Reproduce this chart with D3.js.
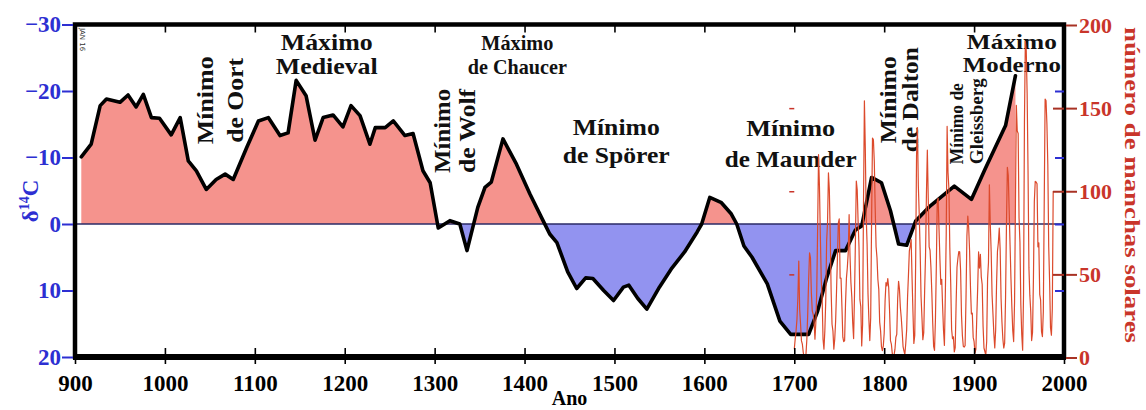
<!DOCTYPE html>
<html><head><meta charset="utf-8">
<script src="https://cdn.jsdelivr.net/npm/d3@7"></script>
<style>html,body{margin:0;padding:0;background:#fff;} svg{display:block;}</style>
</head><body>
<svg id="chart" width="1146" height="410"></svg>
<script>
// ---- data ----
const c14Years = [907,918,928,935,950,959,968,976,985,994,1007,1017,1026,1035,1046,1057,1067,1076,1091,1104,1115,1128,1137,1146,1157,1167,1176,1187,1198,1207,1217,1228,1234,1245,1254,1267,1276,1287,1295,1304,1317,1328,1336,1348,1356,1363,1376,1391,1406,1421,1428,1436,1448,1458,1468,1476,1488,1499,1510,1516,1526,1536,1550,1563,1578,1592,1597,1606,1619,1630,1636,1644,1653,1670,1684,1696,1716,1726,1736,1746,1757,1768,1775,1786,1797,1807,1816,1825,1835,1851,1878,1897,1912,1935,1946];
const c14Values = [-10.1,-12,-17.8,-18.8,-18.3,-19.4,-17.6,-19.5,-16,-15.9,-13.4,-16,-9.5,-8,-5.2,-6.7,-7.5,-6.7,-11.5,-15.5,-16,-13.3,-13.7,-21.6,-19.3,-12.6,-16,-16.4,-14.6,-17.8,-16.3,-12,-14.5,-14.5,-15.5,-13.3,-13.6,-8,-6.2,0.6,-0.5,0,4,-2.5,-5.5,-6.3,-12.8,-9,-4.5,-0.4,1.5,2.8,7.2,9.7,8.1,8.2,10,11.5,9.5,9.2,11.2,12.8,9.5,6.8,4.2,1.2,0,-4,-3.2,-1.5,0,3.3,5,9,14.6,16.6,16.6,13.1,8.1,4,4,0.9,0.3,-7,-6.2,-2,3,3.2,-0.45,-2.7,-5.7,-3.7,-8.2,-14.8,-22.3];

const sunStartYear = 1700;
const sunValues = [
5,11,16,23,36,58,29,20,10,8,
3,0,0,2,11,27,47,63,60,39,
28,26,22,11,21,40,78,122,103,73,
47,35,11,5,16,34,70,81,111,101,
73,40,20,16,5,11,22,40,60,80.9,
83.4,47.7,47.8,30.7,12.2,9.6,10.2,32.4,47.6,54,
62.9,85.9,61.2,45.1,36.4,20.9,11.4,37.8,69.8,106.1,
100.8,81.6,66.5,34.8,30.6,7,19.8,92.5,154.4,125.9,
84.8,68.1,38.5,22.8,10.2,24.1,82.9,132,130.9,118.1,
89.9,66.6,60,46.9,41,21.3,16,6.4,4.1,6.8,
14.5,34,45,43.1,47.5,42.2,28.1,10.1,8.1,2.5,
0,1.4,5,12.2,13.9,35.4,45.8,41.1,30.1,23.9,
15.6,6.6,4,1.8,8.5,16.6,36.3,49.6,64.2,67,
70.9,47.8,27.5,8.5,13.2,56.9,121.5,138.3,103.2,85.7,
64.6,36.7,24.2,10.7,15,40.1,61.5,98.5,124.7,96.3,
66.6,64.5,54.1,39,20.6,6.7,4.3,22.7,54.8,93.8,
95.8,77.2,59.1,44,47,30.5,16.3,7.3,37.6,74,
139,111.2,101.6,66.2,44.7,17,11.3,12.4,3.4,6,
32.3,54.3,59.7,63.7,63.5,52.2,25.4,13.1,6.8,6.3,
7.1,35.6,73,85.1,78,64,41.8,26.2,26.7,12.1,
9.5,2.7,5,24.4,42,63.5,53.8,62,48.5,43.9,
18.6,5.7,3.6,1.4,9.6,47.4,57.1,103.9,80.6,63.6,
37.6,26.1,14.2,5.8,16.7,44.3,63.9,69,77.8,64.9,
35.7,21.2,11.1,5.7,8.7,36.1,79.7,114.4,109.6,88.8,
67.8,47.5,30.6,16.3,9.6,33.2,92.6,151.6,136.3,134.7,
83.9,69.4,31.5,13.9,4.4,38,141.7,190.2,184.8,159,
112.3,53.9,37.5,27.9,10.2,15.1,47,93.8,105.9,105.5,
104.5,66.6,68.9,38,34.5,15.5,12.6,27.5,92.5,155.4,
154.6,140.4,115.9,66.6,45.9,17.9,13.4,29.4,100.2];

const xTicks = [900,1000,1100,1200,1300,1400,1500,1600,1700,1800,1900,2000];
const leftTicks = [-30,-20,-10,0,10,20];
const rightTicks = [0,50,100,150,200];

const labelsH = [
  {lines:["Máximo","Medieval"], year:1180, v:[-26.1,-22.5], w:[92,102], fs:23},
  {lines:["Máximo","de Chaucer"], year:1392, v:[-26.1,-22.6], w:[72,99], fs:21},
  {lines:["Mínimo","de Spörer"], year:1502, v:[-13.4,-9.2], w:[87,107], fs:23},
  {lines:["Mínimo","de Maunder"], year:1696, v:[-13.2,-8.5], w:[89,132], fs:23},
  {lines:["Máximo","Moderno"], year:1942, v:[-26.3,-22.9], w:[90,98], fs:22}
];
const labelsV = [
  {lines:["Mínimo","de Oort"], years:[1053,1087], vMid:-18.6, w:[88,85], fs:23, anchor:"middle"},
  {lines:["Mínimo","de Wolf"], years:[1317,1345], vMid:-14, w:[84,84], fs:23, anchor:"middle"},
  {lines:["Mínimo","de Dalton"], years:[1813,1838], vMid:-18.7, w:[87,105], fs:23, anchor:"middle"},
  {lines:["Mínimo de","Gleissberg"], years:[1888,1910], vMid:-9, w:[81,86], fs:18, anchor:"start"}
];

// ---- scales ----
const svg = d3.select("#chart");
const x = d3.scaleLinear().domain([900,2000]).range([75,1064]);
const yL = d3.scaleLinear().domain([-30,20]).range([24.5,357]);
const yR = d3.scaleLinear().domain([0,200]).range([357.5,25]);

const serif = "'Liberation Serif','Times New Roman',serif";
const blue = "#2d2fd2", red = "#c9352a";

const c14 = c14Years.map((d,i)=>({year:d, v:c14Values[i]}));
const sun = sunValues.map((v,i)=>({year:sunStartYear+i, v}));

// clip paths
const defs = svg.append("defs");
defs.append("clipPath").attr("id","above").append("rect")
  .attr("x",x(900)).attr("y",yL(-30)).attr("width",x(2000)-x(900)).attr("height",yL(0)-yL(-30));
defs.append("clipPath").attr("id","below").append("rect")
  .attr("x",x(900)).attr("y",yL(0)).attr("width",x(2000)-x(900)).attr("height",yL(20)-yL(0));

const area = d3.area().x(d=>x(d.year)).y0(yL(0)).y1(d=>yL(d.v));
svg.append("path").datum(c14).attr("d",area).attr("fill","#f5938d").attr("clip-path","url(#above)");
svg.append("path").datum(c14).attr("d",area).attr("fill","#9293f0").attr("clip-path","url(#below)");

// zero line
svg.append("line").attr("x1",x(900)).attr("x2",x(2000)).attr("y1",yL(0)).attr("y2",yL(0))
  .attr("stroke","#2a2a66").attr("stroke-width",1.5);

// black curve
svg.append("path").datum(c14)
  .attr("d",d3.line().x(d=>x(d.year)).y(d=>yL(d.v)))
  .attr("fill","none").attr("stroke","#000").attr("stroke-width",3.6)
  .attr("stroke-linejoin","round").attr("stroke-linecap","round");

// labels
const lab = svg.append("g").attr("font-family",serif).attr("font-weight","bold").attr("fill","#111");
labelsH.forEach(L=>{
  L.lines.forEach((t,i)=>{
    lab.append("text").attr("x",x(L.year)).attr("y",yL(L.v[i]))
      .attr("text-anchor","middle").attr("font-size",L.fs)
      .attr("textLength",L.w[i]).attr("lengthAdjust","spacingAndGlyphs").text(t);
  });
});
labelsV.forEach(L=>{
  L.lines.forEach((t,i)=>{
    lab.append("text")
      .attr("transform",`translate(${x(L.years[i])},${yL(L.vMid)}) rotate(-90)`)
      .attr("text-anchor",L.anchor).attr("font-size",L.fs)
      .attr("textLength",L.w[i]).attr("lengthAdjust","spacingAndGlyphs").text(t);
  });
});

// sunspot line
svg.append("path").datum(sun)
  .attr("d",d3.line().x(d=>x(d.year)).y(d=>yR(d.v)))
  .attr("fill","none").attr("stroke","#dc4a2c").attr("stroke-width",1.2).attr("stroke-linejoin","round");

// small red ticks at 1700
const g1700 = svg.append("g").attr("transform",`translate(${x(1700)},0)`)
  .call(d3.axisLeft(yR).tickValues([50,100,150]).tickSize(5).tickFormat(""));
g1700.select(".domain").remove();
g1700.selectAll(".tick line").attr("stroke",red).attr("stroke-width",1.5);

// frame
svg.append("rect").attr("x",x(900)).attr("y",yL(-30)).attr("width",x(2000)-x(900)).attr("height",yL(20)-yL(-30))
  .attr("fill","none").attr("stroke","#000").attr("stroke-width",4.5);
svg.append("line").attr("x1",x(900)-2).attr("x2",x(2000)+2).attr("y1",yL(20)).attr("y2",yL(20))
  .attr("stroke","#000").attr("stroke-width",6);

// x axis
const gx = svg.append("g").attr("transform",`translate(0,${yL(20)})`)
  .call(d3.axisBottom(x).tickValues(xTicks).tickSize(7).tickFormat(d3.format("d")));
gx.select(".domain").remove();
gx.selectAll(".tick line").attr("stroke","#000").attr("stroke-width",1.6);
gx.selectAll(".tick text").attr("y",34).attr("dy",0).attr("fill","#000")
  .attr("font-family",serif).attr("font-weight","bold").attr("font-size",23);
const gxi = svg.append("g").attr("transform",`translate(0,${yL(20)})`)
  .call(d3.axisTop(x).tickValues(xTicks.slice(1,-1)).tickSize(9).tickFormat(""));
gxi.select(".domain").remove();
gxi.selectAll(".tick line").attr("stroke","#000").attr("stroke-width",1.6);
const gxt = svg.append("g").attr("transform",`translate(0,${yL(-30)})`)
  .call(d3.axisBottom(x).tickValues(xTicks.slice(1,-1)).tickSize(8).tickFormat(""));
gxt.select(".domain").remove();
gxt.selectAll(".tick line").attr("stroke","#000").attr("stroke-width",1.6);

svg.append("text").attr("x",(x(900)+x(2000))/2).attr("y",405).attr("text-anchor","middle")
  .attr("font-family",serif).attr("font-weight","bold").attr("font-size",20).attr("fill","#000").text("Ano");

// left axis
const gl = svg.append("g").attr("transform",`translate(${x(900)-2},0)`)
  .call(d3.axisLeft(yL).tickValues(leftTicks).tickSize(11).tickPadding(1)
    .tickFormat(d => d<0 ? "\u2212"+Math.abs(d) : String(d)));
gl.select(".domain").remove();
gl.selectAll(".tick line").attr("stroke",blue).attr("stroke-width",2);
gl.selectAll(".tick text").attr("fill",blue).attr("font-family",serif).attr("font-weight","bold").attr("font-size",23);

const gli = svg.append("g").attr("transform",`translate(${x(2000)},0)`)
  .call(d3.axisLeft(yL).tickValues([-20,-10,0,10]).tickSize(9).tickFormat(""));
gli.select(".domain").remove();
gli.selectAll(".tick line").attr("stroke",blue).attr("stroke-width",2);

const lt = svg.append("text").attr("transform","translate(38,201) rotate(-90)").attr("text-anchor","middle")
  .attr("font-family",serif).attr("font-weight","bold").attr("font-size",23).attr("fill",blue);
lt.append("tspan").text("\u03b4");
lt.append("tspan").attr("font-size",14).attr("dy",-9).text("14");
lt.append("tspan").attr("dy",9).text("C");

// right axis
const gr = svg.append("g").attr("transform",`translate(${x(2000)+2},0)`)
  .call(d3.axisRight(yR).tickValues(rightTicks).tickSize(11).tickPadding(2));
gr.select(".domain").remove();
gr.selectAll(".tick line").attr("stroke","#a83224").attr("stroke-width",2);
gr.selectAll(".tick text").attr("fill",red).attr("font-family",serif).attr("font-weight","bold").attr("font-size",22);
const gri = svg.append("g").attr("transform",`translate(${x(2000)},0)`)
  .call(d3.axisLeft(yR).tickValues([50,100,150]).tickSize(11).tickFormat(""));
gri.select(".domain").remove();
gri.selectAll(".tick line").attr("stroke","#a83224").attr("stroke-width",2);

svg.append("text").attr("transform","translate(1125,185) rotate(90)").attr("text-anchor","middle")
  .attr("font-family",serif).attr("font-weight","bold").attr("font-size",22).attr("fill",red)
  .attr("textLength",316).attr("lengthAdjust","spacingAndGlyphs").text("número de manchas solares");

// small stamp
svg.append("text").attr("transform","translate(80,28) rotate(90)")
  .attr("font-family","'DejaVu Sans',sans-serif").attr("font-size",7).attr("fill","#333").text("JAN 16");
</script>
</body></html>
